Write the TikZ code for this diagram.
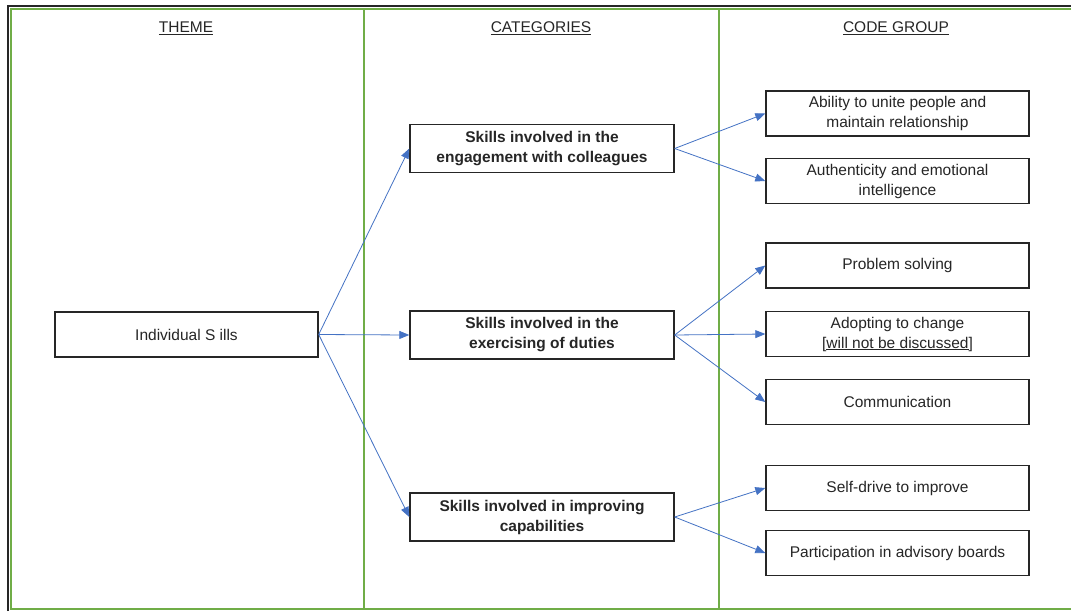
\documentclass[tikz,border=0pt]{standalone}
\usepackage{fontspec}
\setmainfont{Liberation Sans}
\usetikzlibrary{arrows.meta}
\definecolor{framegreen}{HTML}{70AD47}
\definecolor{arrowblue}{HTML}{4472C4}
\definecolor{boxline}{HTML}{262626}
\definecolor{textgray}{HTML}{262626}
\tikzset{
  plainbox/.style={draw=boxline, line width=1.4pt, fill=white, minimum width=263pt,
    minimum height=45pt, inner sep=0pt, align=center, text=textgray,
    font=\fontsize{15.5}{20}\selectfont},
  catbox/.style={plainbox, minimum width=264pt, minimum height=48pt,
    font=\fontsize{15.5}{20}\selectfont\bfseries},
  header/.style={text=textgray, font=\fontsize{15.5}{20}\selectfont, inner sep=0pt},
  link/.style={draw=arrowblue, line width=0.8pt, -{Triangle[length=10pt,width=8pt]}},
  greenrule/.style={draw=framegreen, line width=2pt}
}
\begin{document}
\begin{tikzpicture}[x=1pt,y=-1pt]
\useasboundingbox (0,0) rectangle (1071,611);
\clip (0,0) rectangle (1071,611);
\fill[white] (0,0) rectangle (1071,611);
% outer frame
\draw[line width=2.5pt, draw=boxline] (8,611) -- (8,6) -- (1071,6);
% table grid
\draw[greenrule] (1071,8.5) -- (10.5,8.5) -- (10.5,609) -- (1071,609);
\draw[greenrule] (364,8.5) -- (364,609);
\draw[greenrule] (719,8.5) -- (719,609);
% column headings
\node[header] (hTheme) at (186,28) {\underline{THEME}};
\node[header] (hCat) at (541,28) {\underline{CATEGORIES}};
\node[header] (hCode) at (896,28) {\underline{CODE GROUP}};
% theme
\node[plainbox] (theme) at (186.5,334.5) {Individual S ills};
% categories
\node[catbox] (cat1) at (542,148.5) {Skills involved in the\\engagement with colleagues};
\node[catbox] (cat2) at (542,335) {Skills involved in the\\exercising of duties};
\node[catbox] (cat3) at (542,517) {Skills involved in improving\\capabilities};
% code groups
\node[plainbox] (c1) at (897.5,113.5) {Ability to unite people and\\maintain relationship};
\node[plainbox] (c2) at (897.5,181) {Authenticity and emotional\\intelligence};
\node[plainbox] (c3) at (897.5,265.5) {Problem solving};
\node[plainbox] (c4) at (897.5,334) {Adopting to change\\{[}\underline{will not be discussed}{]}};
\node[plainbox] (c5) at (897.5,402) {Communication};
\node[plainbox] (c6) at (897.5,488) {Self-drive to improve};
\node[plainbox] (c7) at (897.5,553) {Participation in advisory boards};
% connectors
\draw[link] (theme.east) -- (cat1.west);
\draw[link] (theme.east) -- (cat2.west);
\draw[link] (theme.east) -- (cat3.west);
\draw[link] (cat1.east) -- (c1.west);
\draw[link] (cat1.east) -- (c2.west);
\draw[link] (cat2.east) -- (c3.west);
\draw[link] (cat2.east) -- (c4.west);
\draw[link] (cat2.east) -- (c5.west);
\draw[link] (cat3.east) -- (c6.west);
\draw[link] (cat3.east) -- (c7.west);
\end{tikzpicture}
\end{document}
